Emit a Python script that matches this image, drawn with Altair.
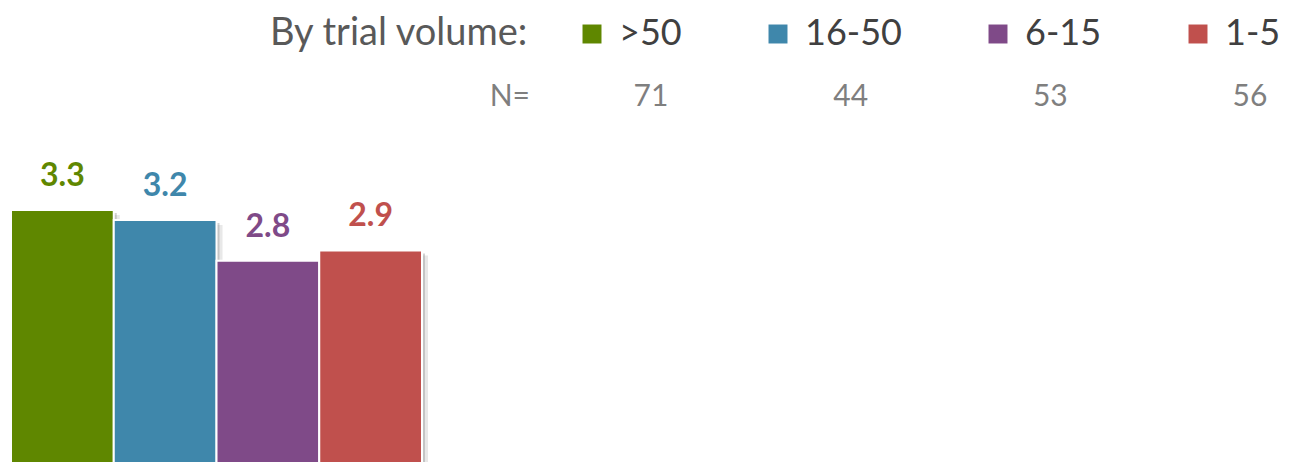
import altair as alt
import pandas as pd

categories = [">50", "16-50", "6-15", "1-5"]
values = [3.3, 3.2, 2.8, 2.9]
n_counts = [71, 44, 53, 56]
colors = ["#5f8700", "#3f87ab", "#7f4a88", "#c0504d"]
legend_title = "By trial volume:"
n_label = "N="

df = pd.DataFrame({"cat": categories, "value": values,
                   "label": [f"{v:.1f}" for v in values]})
df_n = pd.DataFrame({"cat": categories, "n": [str(n) for n in n_counts]})

FONT = "Lato"

xb = alt.X("cat:N", sort=categories, axis=None,
           scale=alt.Scale(domain=categories, range=[3, 414], paddingInner=0, paddingOuter=0))
yb = alt.Y("value:Q", axis=None,
           scale=alt.Scale(domain=[0.816, 5.289], zero=False, nice=False))
color = alt.Color("cat:N", sort=categories,
                  scale=alt.Scale(domain=categories, range=colors),
                  legend=alt.Legend(
                      orient="none", legendX=262, legendY=8, direction="horizontal",
                      title=legend_title, titleOrient="left", titleFont=FONT,
                      titleFontSize=38, titleFontWeight="normal", titleColor="#595959",
                      titlePadding=44, titleBaseline="middle", titleLimit=500,
                      labelFont=FONT, labelFontSize=36, labelColor="#404040",
                      labelOffset=9, symbolType="square", symbolSize=360,
                      symbolStrokeWidth=0, symbolOpacity=1, columnPadding=78,
                      labelLimit=300))

base = alt.Chart(df)
shadow1 = base.mark_bar(color="#808080", opacity=0.35, xOffset=3, yOffset=3, clip=True).encode(x=xb, y=yb)
shadow2 = base.mark_bar(color="#808080", opacity=0.18, xOffset=6, yOffset=5, clip=True).encode(x=xb, y=yb)
bars = base.mark_bar(stroke="white", strokeWidth=2, opacity=1, clip=True).encode(x=xb, y=yb, color=color)
labels = base.mark_text(font=FONT, fontSize=32, fontWeight="bold", baseline="alphabetic", dy=-24).encode(
    x=xb, y=yb, text="label:N", color=color)

bar_layer = alt.layer(shadow2, shadow1, bars, labels)

n_text = alt.Chart(df_n).mark_text(font=FONT, fontSize=30, color="#7f7f7f", baseline="middle").encode(
    x=alt.X("cat:N", sort=categories, axis=None,
            scale=alt.Scale(domain=categories, range=[643, 1242], padding=0)),
    y=alt.value(89),
    text="n:N")
n_eq = alt.Chart(pd.DataFrame({"t": [n_label]})).mark_text(
    font=FONT, fontSize=30, color="#7f7f7f", baseline="middle", align="right").encode(
    x=alt.value(522), y=alt.value(89), text="t:N")

chart = alt.layer(bar_layer, n_text, n_eq).resolve_scale(x="independent").properties(
    width=1277, height=454, padding=0, autosize=alt.AutoSizeParams(type="none"),
    background="white").configure_view(stroke=None)

chart.save("out.html", embed_options={"renderer": "svg", "actions": False})
